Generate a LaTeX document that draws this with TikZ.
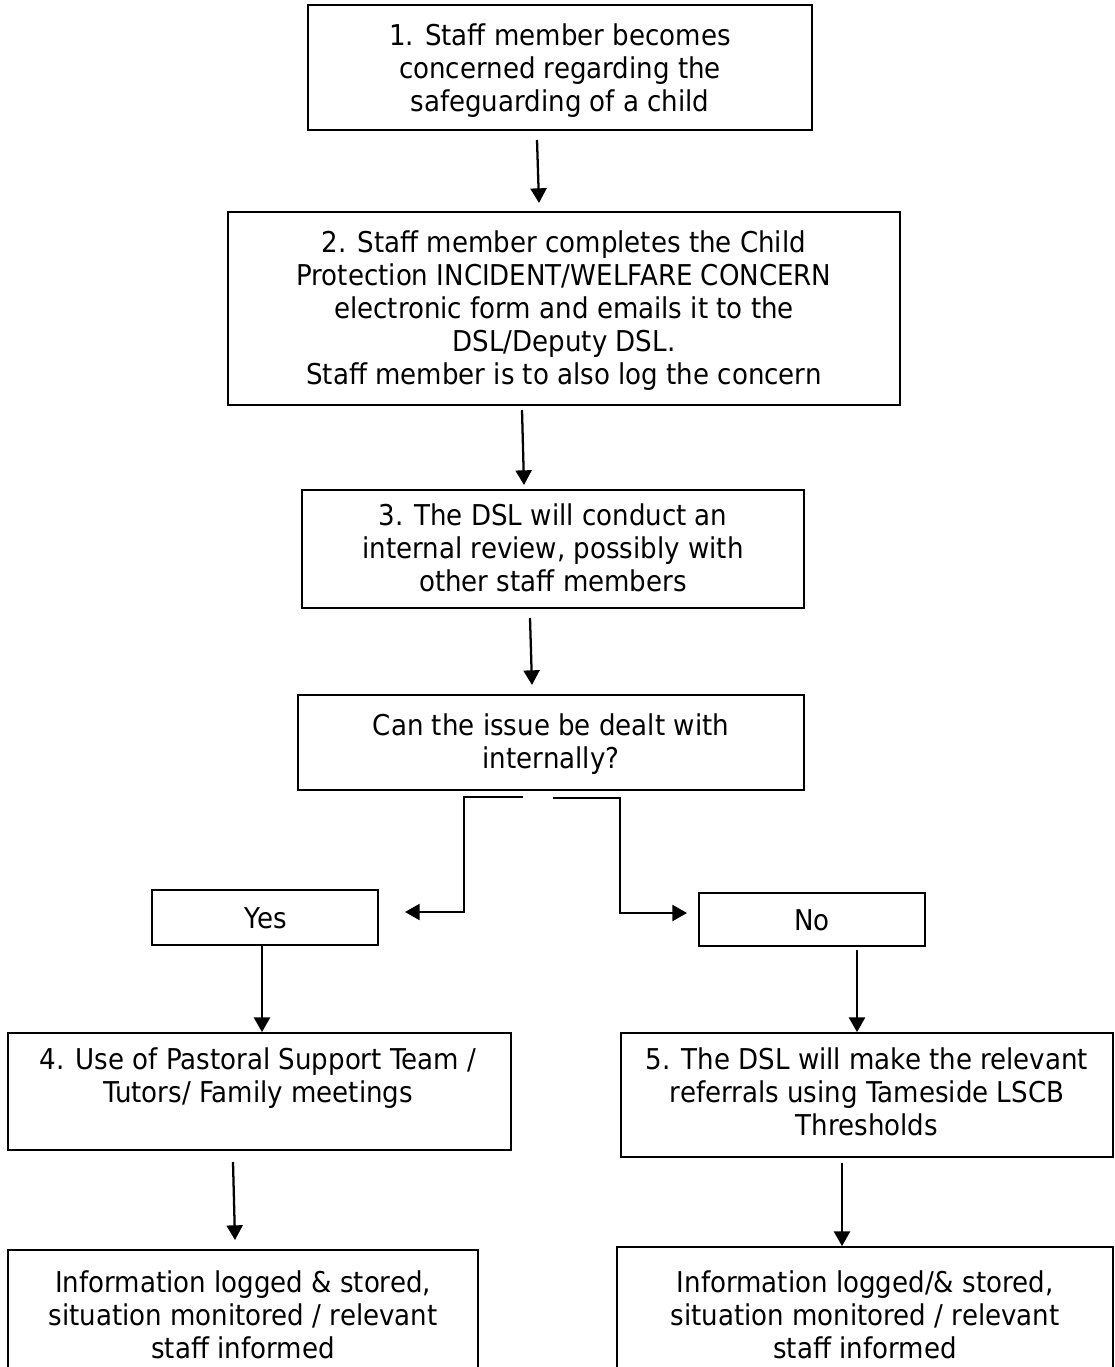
\documentclass[tikz,border=0pt]{standalone}
\usepackage{fontspec}
\setmainfont{DejaVu Sans}[FakeStretch=0.91]
\usetikzlibrary{arrows.meta}
\begin{document}
\begin{tikzpicture}[x=0.75pt,y=-0.75pt,
  box/.style={draw, line width=1.3pt, inner sep=0pt},
  txt/.style={align=center, inner sep=0pt, font=\fontsize{21.5}{24.75}\selectfont},
  arr/.style={line width=1.7pt, -{Triangle[length=11pt,width=12pt]}}]
\useasboundingbox (0,0) rectangle (1114,1367);
\clip (0,0) rectangle (1114,1367);
% boxes
\node[box, minimum width=378pt, minimum height=93.75pt] (b1) at (560,67.5) {};
\node[box, minimum width=504pt, minimum height=144.75pt] (b2) at (564,308.5) {};
\node[box, minimum width=376.5pt, minimum height=88.5pt] (b3) at (553,549) {};
\node[box, minimum width=379.5pt, minimum height=71.25pt] (dec) at (551,742.5) {};
\node[box, minimum width=169.5pt, minimum height=41.25pt] (yes) at (265,917.5) {};
\node[box, minimum width=169.5pt, minimum height=39.75pt] (no) at (812,919.5) {};
\node[box, minimum width=377.25pt, minimum height=87.75pt] (p) at (259.5,1091.5) {};
\node[box, minimum width=369pt, minimum height=93pt] (r) at (867,1095) {};
\node[box, minimum width=352.5pt, minimum height=112.5pt] (l1) at (243,1325) {};
\node[box, minimum width=372pt, minimum height=114.75pt] (l2) at (865,1323.5) {};
% texts
\node[txt] (t1) at (560,71) {1. Staff member becomes\\concerned regarding the\\safeguarding of a child};
\node[txt] (t2) at (564,311) {2. Staff member completes the Child\\Protection INCIDENT/WELFARE CONCERN\\electronic form and emails it to the\\DSL/Deputy DSL.\\Staff member is to also log the concern};
\node[txt] (t3) at (553,548) {3. The DSL will conduct an\\internal review, possibly with\\other staff members};
\node[txt] (tdec) at (551,744) {Can the issue be dealt with\\internally?};
\node[txt] (tyes) at (266,918) {Yes};
\node[txt] (tno) at (812,920) {No};
\node[txt] (tp) at (258,1078) {4. Use of Pastoral Support Team /\\Tutors/ Family meetings};
\node[txt] (tr) at (867,1092) {5. The DSL will make the relevant\\referrals using Tameside LSCB\\Thresholds};
\node[txt] (tl1) at (243,1315) {Information logged \& stored,\\situation monitored / relevant\\staff informed};
\node[txt] (tl2) at (865,1315) {Information logged/\& stored,\\situation monitored / relevant\\staff informed};
% connector coordinates
\coordinate (a1s) at (537,140);
\coordinate (a1e) at (539,203);
\coordinate (a2s) at (522,410);
\coordinate (a2e) at (524,485);
\coordinate (a3s) at (530,618);
\coordinate (a3e) at (532,685);
\coordinate (ls) at (523,797);
\coordinate (lc) at (464,797);
\coordinate (ld) at (464,912);
\coordinate (le) at (405,912);
\coordinate (rs) at (553,798);
\coordinate (rc) at (620,798);
\coordinate (rd) at (620,913);
\coordinate (re) at (687,913);
\coordinate (ya) at (262,945);
\coordinate (na) at (857,950);
\coordinate (pa) at (233,1162);
\coordinate (pe) at (235,1240);
\coordinate (ra) at (842,1163);
% connectors
\draw[arr] (a1s) -- (a1e);
\draw[arr] (a2s) -- (a2e);
\draw[arr] (a3s) -- (a3e);
\draw[arr] (ls) -- (lc) -- (ld) -- (le);
\draw[arr] (rs) -- (rc) -- (rd) -- (re);
\draw[arr] (ya) -- (ya |- p.north);
\draw[arr] (na) -- (na |- r.north);
\draw[arr] (pa) -- (pe);
\draw[arr] (ra) -- (ra |- l2.north);
\end{tikzpicture}
\end{document}
